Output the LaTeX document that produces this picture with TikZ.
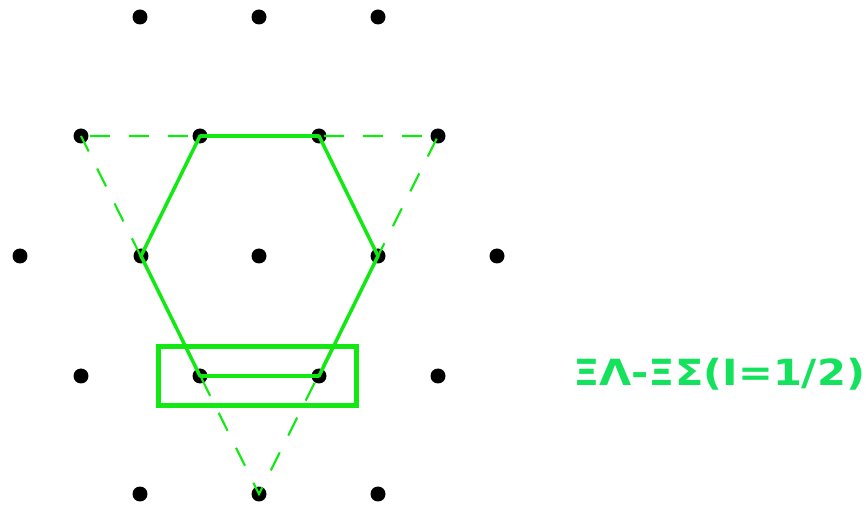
\documentclass[tikz,border=0pt]{standalone}
\usepackage{fontspec}
\newfontfamily\labelfont{DejaVu Sans}[FakeStretch=1.155]
\usetikzlibrary{fit}

\definecolor{hexgreen}{RGB}{18,232,18}
\definecolor{labelgreen}{RGB}{20,226,92}

\tikzset{
  site/.style={circle, fill=black, inner sep=0pt, minimum size=0.3cm},
  hexline/.style={draw=hexgreen, line width=2pt, line join=round},
  triline/.style={draw=hexgreen, line width=1.2pt, dash pattern=on 0.4cm off 0.38cm, dash phase=0.6cm},
  pairbox/.style={draw=hexgreen, line width=2.6pt, inner xsep=0.63cm, inner ysep=0.43cm}
}

\begin{document}
\begin{tikzpicture}[x=0.02cm, y=-0.02cm]
  \useasboundingbox (0,0) rectangle (866,506);
  % weight-diagram lattice sites
  \node[site] (a1) at (140,17) {};
  \node[site] (a2) at (259,17) {};
  \node[site] (a3) at (378,17) {};
  \node[site] (b1) at (81,136) {};
  \node[site] (b2) at (200,136) {};
  \node[site] (b3) at (319,136) {};
  \node[site] (b4) at (438,136) {};
  \node[site] (c1) at (20,256) {};
  \node[site] (c2) at (141,256) {};
  \node[site] (c3) at (259,256) {};
  \node[site] (c4) at (378,256) {};
  \node[site] (c5) at (497,256) {};
  \node[site] (d1) at (81,376) {};
  \node[site] (d2) at (200,376) {};
  \node[site] (d3) at (319,376) {};
  \node[site] (d4) at (438,376) {};
  \node[site] (e1) at (140,494) {};
  \node[site] (e2) at (259,494) {};
  \node[site] (e3) at (378,494) {};

  % antidecuplet-like triangle and octet hexagon
  \draw[triline] (b1.center) -- (b4.center) -- (e2.center) -- cycle;
  \draw[hexline] (b2.center) -- (b3.center) -- (c4.center) -- (d3.center)
    -- (d2.center) -- (c2.center) -- cycle;

  % highlighted pair
  \node[pairbox, fit=(d2)(d3), xshift=-0.04cm] (pair) {};
  \node[anchor=base west, text=labelgreen, font=\labelfont\bfseries\fontsize{20.5}{24}\selectfont]
    (lbl) at (567,386) {ΞΛ-ΞΣ(I=1/2)};
\end{tikzpicture}
\end{document}
